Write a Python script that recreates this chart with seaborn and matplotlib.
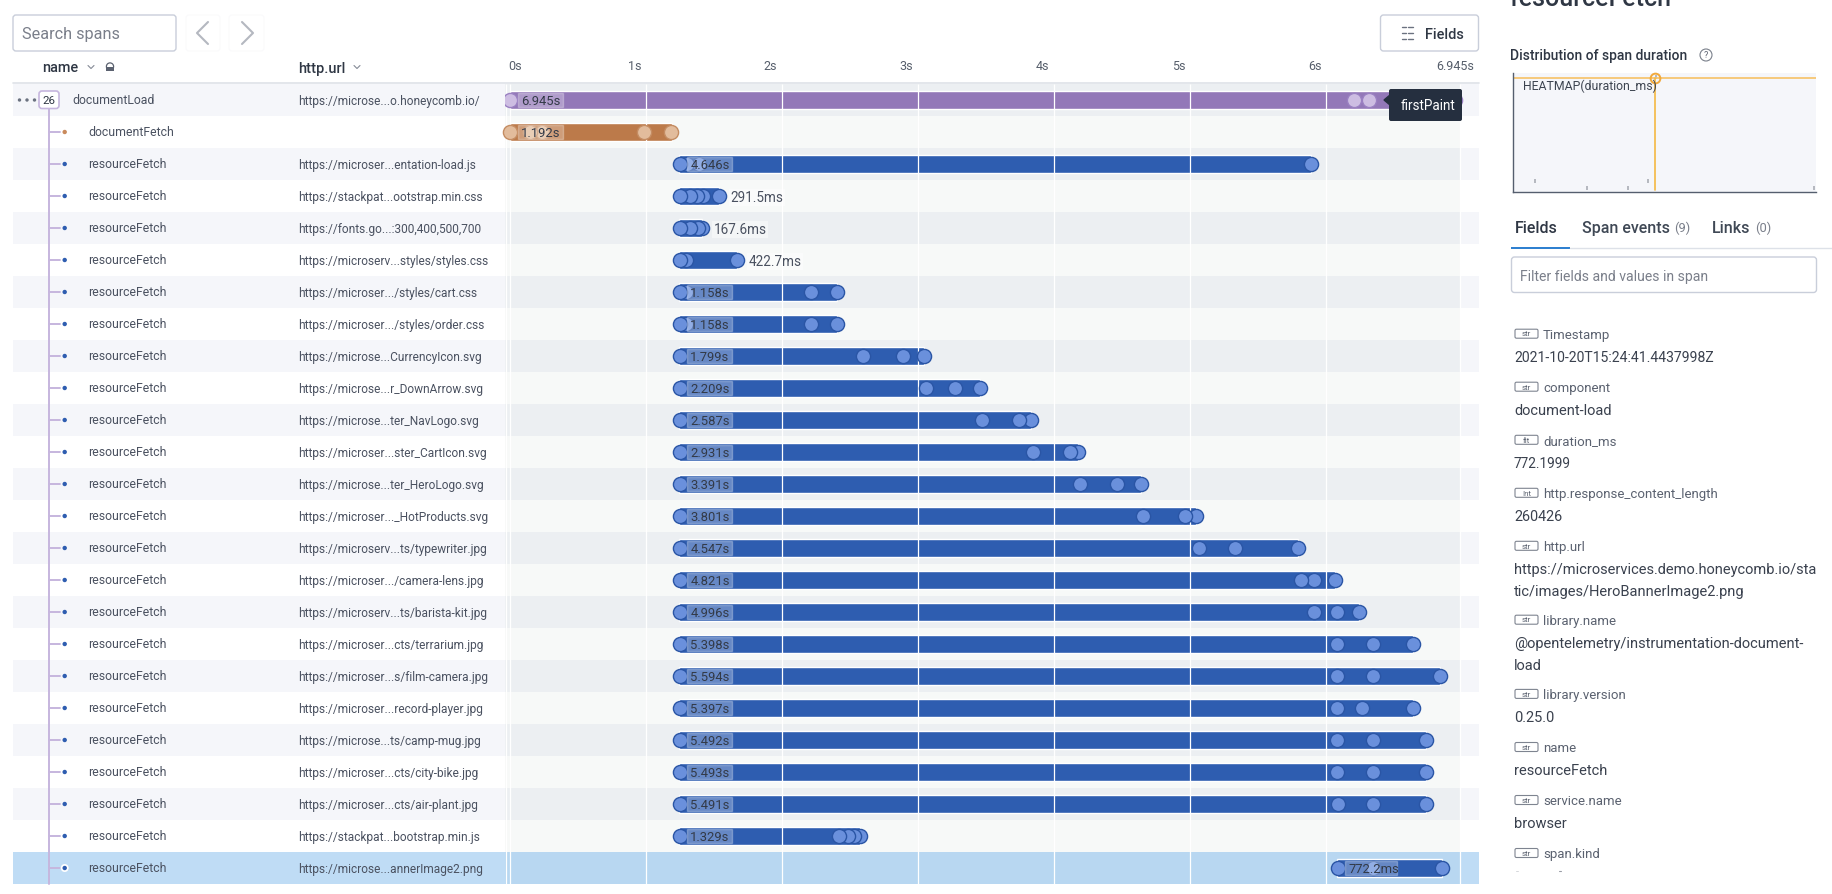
import numpy as np
import pandas as pd
import matplotlib.pyplot as plt
import seaborn as sns
from matplotlib.patches import FancyBboxPatch, Rectangle, Circle
from matplotlib.transforms import ScaledTranslation

sns.set_theme(style='white')
plt.rcParams['font.family'] = ['Roboto', 'DejaVu Sans']

# span table, all times in seconds
urls = ['https://microse...o.honeycomb.io/', '', 'https://microser...entation-load.js',
        'https://stackpat...ootstrap.min.css', 'https://fonts.go...:300,400,500,700',
        'https://microserv...styles/styles.css', 'https://microser.../styles/cart.css',
        'https://microser.../styles/order.css', 'https://microse...CurrencyIcon.svg',
        'https://microse...r_DownArrow.svg', 'https://microse...ter_NavLogo.svg',
        'https://microser...ster_CartIcon.svg', 'https://microse...ter_HeroLogo.svg',
        'https://microser..._HotProducts.svg', 'https://microserv...ts/typewriter.jpg',
        'https://microser.../camera-lens.jpg', 'https://microserv...ts/barista-kit.jpg',
        'https://microser...cts/terrarium.jpg', 'https://microser...s/film-camera.jpg',
        'https://microser...record-player.jpg', 'https://microse...ts/camp-mug.jpg',
        'https://microser...cts/city-bike.jpg', 'https://microser...cts/air-plant.jpg',
        'https://stackpat...bootstrap.min.js', 'https://microse...annerImage2.png']
names = ['documentLoad', 'documentFetch'] + ['resourceFetch'] * 23
kinds = ['load', 'fetch'] + ['resource'] * 23
starts = [0, 0] + [1.243] * 22 + [6.079]
durations = [6.945, 1.192, 4.646, 0.2915, 0.1676, 0.4227, 1.158, 1.158, 1.799, 2.209, 2.587, 2.931,
             3.391, 3.801, 4.547, 4.821, 4.996, 5.398, 5.594, 5.397, 5.492, 5.493, 5.491, 1.329, 0.7722]
duration_labels = ['6.945s', '1.192s', '4.646s', '291.5ms', '167.6ms', '422.7ms', '1.158s', '1.158s',
                   '1.799s', '2.209s', '2.587s', '2.931s', '3.391s', '3.801s', '4.547s', '4.821s',
                   '4.996s', '5.398s', '5.594s', '5.397s', '5.492s', '5.493s', '5.491s', '1.329s', '772.2ms']
# span events per row
events = [[0, 6.2, 6.315, 6.945],
          [0, 0.145, 0.235, 0.985, 1.178],
          [1.248, 1.299, 1.388, 5.889],
          [1.248, 1.321, 1.373, 1.417, 1.535],
          [1.248, 1.321, 1.380, 1.411],
          [1.248, 1.292, 1.666],
          [1.248, 1.292, 2.211, 2.401],
          [1.248, 1.292, 2.211, 2.401],
          [1.248, 2.594, 2.888, 3.042],
          [1.248, 3.057, 3.270, 3.452],
          [1.248, 3.468, 3.740, 3.830],
          [1.248, 3.843, 4.115, 4.174],
          [1.248, 4.189, 4.461, 4.634],
          [1.248, 4.652, 4.961, 5.044],
          [1.248, 5.064, 5.329, 5.790],
          [1.248, 5.814, 5.910, 6.064],
          [1.248, 5.910, 6.079, 6.239],
          [1.248, 6.079, 6.343, 6.641],
          [1.248, 6.079, 6.343, 6.837],
          [1.248, 6.079, 6.262, 6.640],
          [1.248, 6.079, 6.343, 6.735],
          [1.248, 6.079, 6.343, 6.736],
          [1.248, 6.086, 6.343, 6.734],
          [1.248, 2.417, 2.483, 2.530, 2.572],
          [6.086, 6.343, 6.851]]
tick_values = [0, 1, 2, 3, 4, 5, 6, 6.945]
tick_labels = ['0s', '1s', '2s', '3s', '4s', '5s', '6s', '6.945s']

# heatmap cells of the small distribution chart
heat_x = [22, 74, 115, 135, 143, 301]
heat_y = [0.09, 0.03, 0.03, 0.09, 0.97, 0.03]

# fields panel
field_types = ['str', 'str', 'flt', 'Int', 'str', 'str', 'str', 'str', 'str', 'str']
field_names = ['Timestamp', 'component', 'duration_ms', 'http.response_content_length', 'http.url',
               'library.name', 'library.version', 'name', 'service.name', 'span.kind']
field_values = ['2021-10-20T15:24:41.4437998Z', 'document-load', '772.1999', '260426',
                'https://microservices.demo.honeycomb.io/sta\ntic/images/HeroBannerImage2.png',
                '@opentelemetry/instrumentation-document-\nload', '0.25.0', 'resourceFetch', 'browser', '']
value_sizes = [14, 14.6, 13.6, 14.4, 14.6, 14.6, 14.6, 14.6, 14.6, 14.6]

colors = {'load': ('#9378B8', '#CDBDE2', '#9A80C2'),
          'fetch': ('#BC7A4A', '#E2BC9C', '#C48C62'),
          'resource': ('#2E5DB0', '#6A90DC', '#2A55A5')}
TEXT = '#4A5160'
DARK = '#2F3744'
GREY = '#7A7F8A'
LINE = '#C9CEDA'
TREE = '#C6B6DE'


def fs(px):
    return px * 0.72


W, H = 1832, 894
fig = plt.figure(figsize=(W / 100, H / 100), dpi=100)

spans = pd.DataFrame({'row': range(25), 'kind': kinds, 'start': starts, 'duration': durations,
                      'label': duration_labels})
ev = pd.DataFrame([(r, t, kinds[r]) for r, ts in enumerate(events) for t in ts], columns=['row', 't', 'kind'])
ev = ev.sort_values(['row', 't'], ascending=[True, False])

# timeline axes, x in seconds, y in rows
ax = fig.add_axes([505 / W, 1 - 884 / H, (1479 - 505) / W, 800 / H], zorder=2)
for r in range(25):
    if r == 24:
        ax.axhspan(r - 0.5, r + 0.5, xmin=0, xmax=955 / 974, color='#B8D7F1', lw=0, zorder=0)
        ax.axhspan(r - 0.5, r + 0.5, xmin=955 / 974, xmax=1, color='#BFDCF5', lw=0, zorder=0)
    elif r % 2 == 0:
        ax.axhspan(r - 0.5, r + 0.5, xmin=0, xmax=955 / 974, color='#ECEFF2', lw=0, zorder=0)
        ax.axhspan(r - 0.5, r + 0.5, xmin=955 / 974, xmax=1, color='#F5F6FA', lw=0, zorder=0)
    else:
        ax.axhspan(r - 0.5, r + 0.5, xmin=0, xmax=955 / 974, color='#F7F9F8', lw=0, zorder=0)

for kind, (bar_color, fill, edge) in colors.items():
    sub = spans[spans['kind'] == kind].sort_values('row')
    sns.barplot(data=sub, x='duration', y='row', orient='h', native_scale=True, color=bar_color,
                saturation=1, width=18 / 32, left=sub['start'].values, errorbar=None, zorder=2, ax=ax)
    sub_ev = ev[ev['kind'] == kind]
    sns.scatterplot(data=sub_ev, x='t', y='row', color=fill, edgecolor=edge, linewidth=1, s=104,
                    zorder=3, clip_on=False, legend=False, ax=ax)

x0, x1 = (505 - 510.3) / 136, (1479 - 510.3) / 136
ax.set_xlim(x0, x1)
ax.set_ylim(24.5, -0.5)
ax.set(xlabel='', ylabel='', yticks=[])
ax.patch.set_alpha(0)
sns.despine(ax=ax, left=True, bottom=True)
ax.spines['top'].set_visible(False)

# white time grid runs over the bars, under the circles
ax.vlines([-0.0, 1, 2, 3, 4, 5, 6], -0.5, 24.5, color='white', lw=0.9, zorder=2.5)
ax.vlines([(1460 - 510.3) / 136, (505.5 - 510.3) / 136], -0.5, 24.5, color='white', lw=0.9, zorder=2.5)

ax.set_xticks(tick_values, tick_labels)
ax.tick_params(axis='x', length=0, pad=8, labeltop=True, labelbottom=False, top=False, bottom=False,
               labelsize=fs(12.5), labelcolor='#565E6B')
for tick, val in zip(ax.xaxis.get_major_ticks(), tick_values):
    lab = tick.label2
    if val == 0:
        lab.set_ha('left')
        dx = -2
    elif val == 6.945:
        lab.set_ha('right')
        dx = 19
    else:
        lab.set_ha('right')
        dx = -5
    lab.set_transform(lab.get_transform() + ScaledTranslation(dx / 100, 0, fig.dpi_scale_trans))

# duration labels
for _, row in spans.iterrows():
    end = row['start'] + row['duration']
    if row['row'] in (3, 4, 5):
        ax.annotate(row['label'], (end, row['row']), xytext=(fs(11.5), 0), textcoords='offset points',
                    va='center_baseline', fontsize=fs(13.5), color=TEXT, zorder=5,
                    bbox=dict(boxstyle='square,pad=0.1', fc='white', ec='none', alpha=0.45))
    else:
        box_w = 7.5 * len(row['label']) / 136
        ax.barh(row['row'], box_w, left=row['start'] + 7.5 / 136, height=13.5 / 32, color='white', alpha=0.27,
                zorder=4)
        ax.annotate(row['label'], (row['start'], row['row']), xytext=(fs(11), 0), textcoords='offset points',
                    va='center_baseline', fontsize=fs(13), color='#333A47', zorder=5)

# everything around the chart, in pixel coordinates
ui = fig.add_axes([0, 0, 1, 1], zorder=3)
ui.set_xlim(0, W)
ui.set_ylim(H, 0)
ui.axis('off')
ui.patch.set_alpha(0)


def box(x, y, w, h, fc='white', ec=LINE, lw=1.0, r=3, **kw):
    ui.add_patch(FancyBboxPatch((x, y), w, h, boxstyle=f'round,pad=0,rounding_size={r}', fc=fc, ec=ec, lw=lw, **kw))


def label(x, y, s, px=13, color=TEXT, ha='left', weight='normal', **kw):
    ui.text(x, y, s, fontsize=fs(px), color=color, ha=ha, va='center_baseline', fontweight=weight, **kw)


# top bar
box(13, 15, 163, 36)
label(22, 33, 'Search spans', 16.3, GREY)
box(186, 15, 34, 36, ec='#FAFAFB', lw=0.8)
box(229, 15, 35, 36, ec='#FAFAFB', lw=0.8)
ui.plot([208, 197, 208], [22, 33, 44], color='#B4B8C0', lw=1.5)
ui.plot([242, 253, 242], [22, 33, 44], color='#B4B8C0', lw=1.5)
box(1380.5, 15, 98, 36)
for yy in (27, 33, 39):
    ui.plot([1401.5, 1405.5], [yy, yy], color='#6B7280', lw=1)
    ui.plot([1408, 1413], [yy, yy], color='#6B7280', lw=1)
label(1424.5, 33.5, 'Fields', 14.5, DARK, weight='medium')

# header row
label(42, 67, 'name', 14.5, DARK, weight='medium')
label(298, 67, 'http.url', 14.5, DARK, weight='medium')
for cx in (91, 357):
    ui.plot([cx - 3, cx, cx + 3], [65.5, 68.5, 65.5], color='#858B96', lw=0.8)
ui.add_patch(Circle((110, 66.5), 3.6, fc='white', ec='#5B6270', lw=0.9))
ui.add_patch(Rectangle((106, 67), 8, 4, fc='#5B6270', ec='none'))
ui.plot([13, 1479], [83, 83], color='#DEE2E8', lw=1.2)

# left column rows
for r in range(25):
    y = 84 + 32 * r
    if r == 24:
        ui.add_patch(Rectangle((13, y), 492, 32, fc='#BFDCF5', ec='none'))
    elif r % 2 == 0:
        ui.add_patch(Rectangle((13, y), 492, 32, fc='#F5F6FA', ec='none'))
ui.plot([48.6, 48.6], [108, 884], color=TREE, lw=1.4, zorder=2)
for r in range(25):
    y = 99.5 + 32 * r
    label(72 if r == 0 else 88.3, y, names[r], 12.3)
    if urls[r]:
        label(298, y, urls[r], 11.85)
    if r > 0:
        ui.plot([48.6, 60], [y + 0.5, y + 0.5], color=TREE, lw=1.4, zorder=2)
        dot = '#C98A5C' if r == 1 else '#2E5DB0'
        if r == 24:
            ui.add_patch(Circle((64.7, y + 0.5), 4, fc='white', ec='none', zorder=3))
        ui.add_patch(Circle((64.7, y + 0.5), 2.2, fc=dot, ec='none', zorder=3))
for cx in (19.5, 27, 34.5):
    ui.add_patch(Circle((cx, 100), 1.7, fc='#6B7280', ec='none'))
box(39, 91, 20, 17.5, ec=TREE, lw=1.2, r=3, zorder=3)
label(49, 100, '26', 11.5, DARK, ha='center', zorder=4)

# tooltip
ui.fill([1384, 1390, 1390], [100, 95, 105], color='#252F3F', zorder=5)
box(1389, 89, 73, 32, fc='#252F3F', ec='none', r=2, zorder=5)
label(1401, 105, 'firstPaint', 13.5, 'white', zorder=6)

# right panel
ui.text(1510.5, 5.5, 'resourceFetch', fontsize=fs(25), color=DARK, fontweight='medium', ha='left', va='baseline')
label(1510.5, 54.5, 'Distribution of span duration', 13.9, DARK, weight='medium')
ui.add_patch(Circle((1706, 55), 6, fc='white', ec='#7A808B', lw=0.8))
label(1706, 55, '?', 9, '#5B6270', ha='center')

# small distribution chart
heat = fig.add_axes([1512.5 / W, 1 - 192 / H, 303.5 / W, 119 / H], zorder=3)
heat.set_facecolor('#F5F6FA')
sns.scatterplot(x=heat_x, y=heat_y, marker='|', s=11, linewidth=1.4, color='#B5B8BF', legend=False, ax=heat)
heat.set_xlim(0, 303.5)
heat.set_ylim(0, 1)
heat.set_xticks([])
heat.set_yticks([])
sns.despine(ax=heat)
for side in ('left', 'bottom'):
    heat.spines[side].set_color('#555E6E')
    heat.spines[side].set_linewidth(1)
heat.axhline(0.96, color='#F7C266', lw=1.2)
heat.plot([142.5, 142.5], [0.02, 0.96], color='#F4B843', lw=1.2)
heat.plot([142.5], [0.96], marker='o', ms=7, mfc='none', mec='#F2A93B', mew=1.4, clip_on=False)
heat.text(10.5, 0.905, 'HEATMAP(duration_ms)', fontsize=fs(12.2), color='#3D4450', va='center_baseline')

# tabs
label(1514.5, 227, 'Fields', 16, DARK, weight='medium')
label(1582, 227, 'Span events', 16, '#3F4855', weight='medium')
label(1674, 227, '(9)', 13, GREY)
label(1711.5, 227, 'Links', 16, '#3F4855', weight='medium')
label(1755, 227, '(0)', 13, GREY)
ui.plot([1570, W], [248, 248], color='#DDE1E8', lw=1)
ui.add_patch(Rectangle((1511, 247), 59, 2, fc='#2F80D0', ec='none'))
box(1511.5, 257, 305, 35.5)
label(1520, 275, 'Filter fields and values in span', 14, GREY)

# field list
label_y = [333.7, 386.7, 439.8, 492.8, 545.8, 619.7, 693.9, 747, 800, 853]
value_y = [356.8, 409.8, 462.9, 515.9, 568.6, 642.8, 716.7, 769.7, 822.7, 0]
for ftype, fname, fval, ly, vy, vpx in zip(field_types, field_names, field_values, label_y, value_y, value_sizes):
    box(1515, ly - 4.5, 23, 9, ec='#7E8490', lw=0.8, r=1.5)
    label(1526.5, ly + 0.3, ftype, 8, '#5B6270', ha='center')
    label(1543, ly, fname, 13.3, '#5B6270')
    for i, part in enumerate(fval.split('\n')):
        if part:
            label(1514, vy + i * 21.7, part, vpx, '#3A414E')
# top edge of the next value, the panel scrolls here
ui.plot([1516, 1518], [870.5, 870.5], color='#D5D7DB', lw=0.7)
ui.plot([1559, 1561], [870.5, 870.5], color='#9A9EA6', lw=0.8)

fig.savefig('out.png', dpi=100)
